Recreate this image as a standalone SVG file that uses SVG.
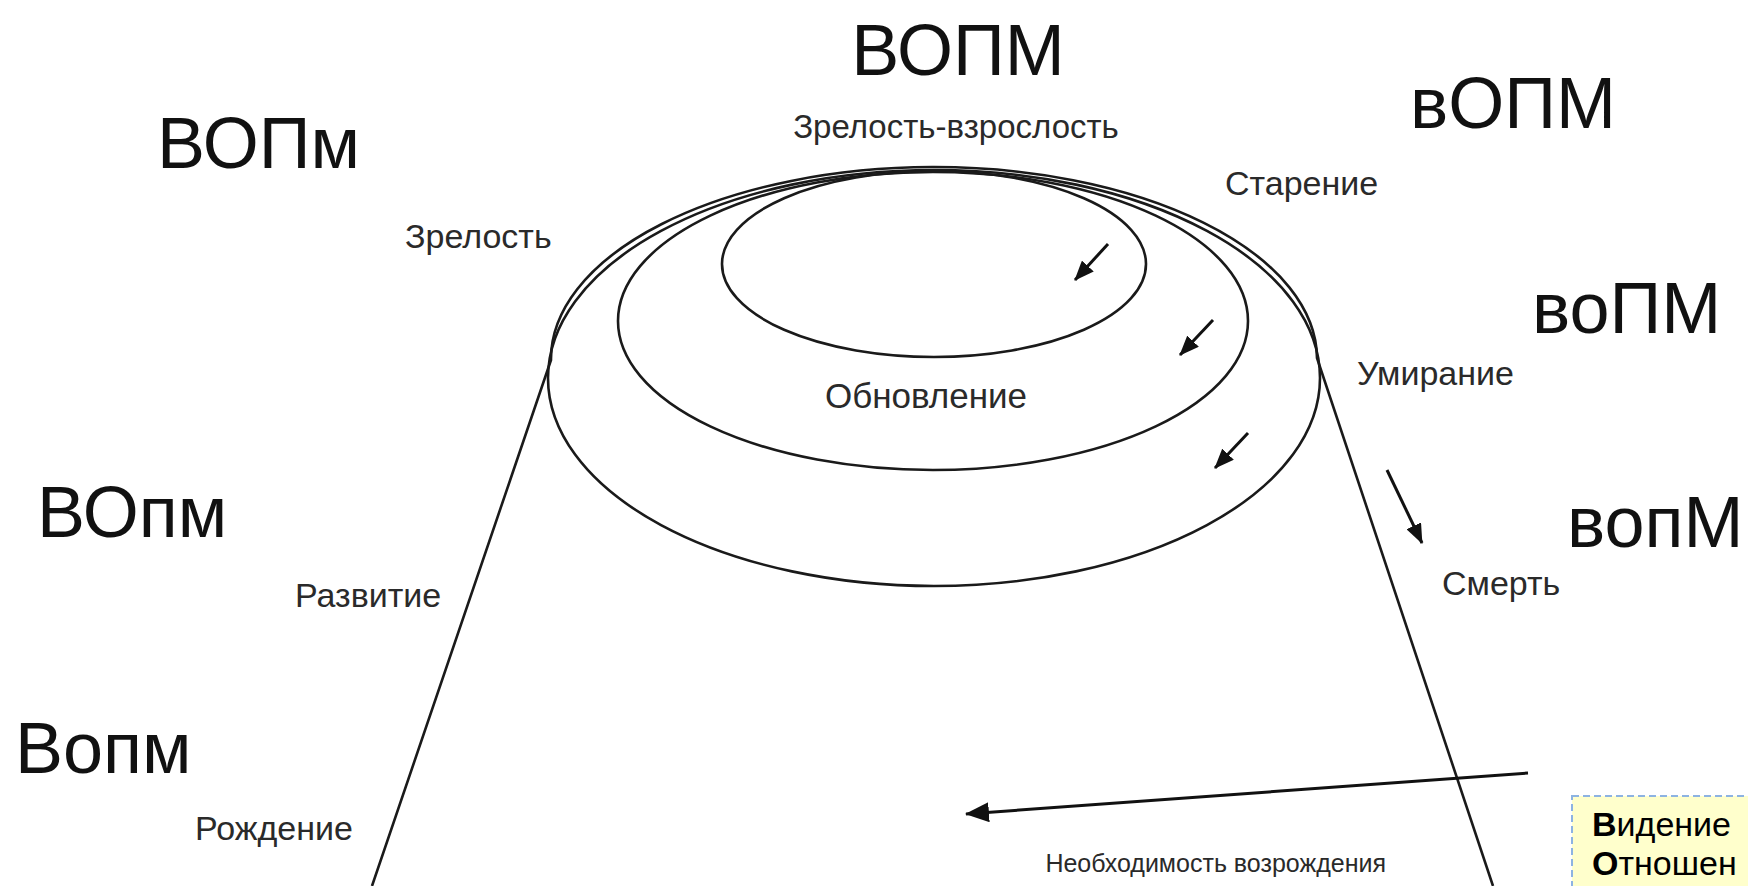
<svg xmlns="http://www.w3.org/2000/svg" width="1748" height="886" viewBox="0 0 1748 886">
<defs>
<marker id="ah" viewBox="0 0 20 16" refX="19" refY="8" markerWidth="20" markerHeight="16" markerUnits="userSpaceOnUse" orient="auto">
<path d="M0,0 L20,8 L0,16 z" fill="#111"/>
</marker>
<marker id="ahL" viewBox="0 0 24 20" refX="23" refY="10" markerWidth="24" markerHeight="20" markerUnits="userSpaceOnUse" orient="auto">
<path d="M0,0 L24,10 L0,20 z" fill="#111"/>
</marker>
</defs>
<style>
text{font-family:"Liberation Sans",Arial,Helvetica,sans-serif}
.big{font-size:72px;fill:#111}
.lbl{font-size:34px;fill:#2a2a2a}
.sm{font-size:25px;fill:#2a2a2a}
.sh{fill:none;stroke:#1a1a1a;stroke-width:2.6}
.ar{fill:none;stroke:#111;stroke-width:3;marker-end:url(#ah)}
.arL{fill:none;stroke:#111;stroke-width:3;marker-end:url(#ahL)}
.note{fill:#FFFFCC;stroke:#8DB3E2;stroke-width:2;stroke-dasharray:7 4}
.nt{font-size:34px;fill:#000}
</style>
<rect width="1748" height="886" fill="#ffffff"/>

<g id="shape">
<ellipse id="outer" class="sh" cx="934" cy="378" rx="386" ry="208"/>
<ellipse id="middle" class="sh" cx="933" cy="321" rx="315" ry="149"/>
<ellipse id="inner" class="sh" cx="934" cy="264" rx="212" ry="93"/>
<path id="bell" class="sh" d="M372,886 L551,360 A383,192 0 0 1 1317,358 L1493,886"/>
</g>

<g id="connectors">
<line class="ar" x1="1108" y1="244" x2="1075" y2="280"/>
<line class="ar" x1="1213" y1="320" x2="1180" y2="355"/>
<line class="ar" x1="1248" y1="433" x2="1215" y2="468"/>
<line class="ar" x1="1387" y1="470" x2="1422" y2="543"/>
<line class="arL" x1="1528" y1="773" x2="966" y2="814"/>
</g>

<g id="n-VOPM"><text class="big" x="958" y="75" text-anchor="middle">ВОПМ</text></g>
<g id="n-zrelost-vzroslost"><text class="lbl" x="956" y="138" text-anchor="middle" style="font-size:33px">Зрелость-взрослость</text></g>
<g id="n-vOPM"><text class="big" x="1410" y="128">вОПМ</text></g>
<g id="n-VOPm"><text class="big" x="157" y="168">ВОПм</text></g>
<g id="n-starenie"><text class="lbl" x="1225" y="195">Старение</text></g>
<g id="n-zrelost"><text class="lbl" x="405" y="248">Зрелость</text></g>
<g id="n-voPM"><text class="big" x="1532" y="333">воПМ</text></g>
<g id="n-obnovlenie"><text class="lbl" x="926" y="408" text-anchor="middle" style="font-size:35px">Обновление</text></g>
<g id="n-umiranie"><text class="lbl" x="1357" y="385">Умирание</text></g>
<g id="n-VOpm"><text class="big" x="37" y="537">ВОпм</text></g>
<g id="n-vopM"><text class="big" x="1567" y="547">вопМ</text></g>
<g id="n-smert"><text class="lbl" x="1442" y="595">Смерть</text></g>
<g id="n-razvitie"><text class="lbl" x="295" y="607">Развитие</text></g>
<g id="n-Vopm"><text class="big" x="15" y="773">Вопм</text></g>
<g id="n-rozhdenie"><text class="lbl" x="195" y="840">Рождение</text></g>
<g id="n-vozrozhdenie"><text class="sm" x="1386" y="872" text-anchor="end">Необходимость возрождения</text></g>

<g id="n-note">
<rect class="note" x="1572" y="796" width="200" height="110"/>
<text class="nt" x="1592" y="836"><tspan font-weight="bold">В</tspan>идение</text>
<text class="nt" x="1592" y="875"><tspan font-weight="bold">О</tspan>тношен</text>
</g>
</svg>
